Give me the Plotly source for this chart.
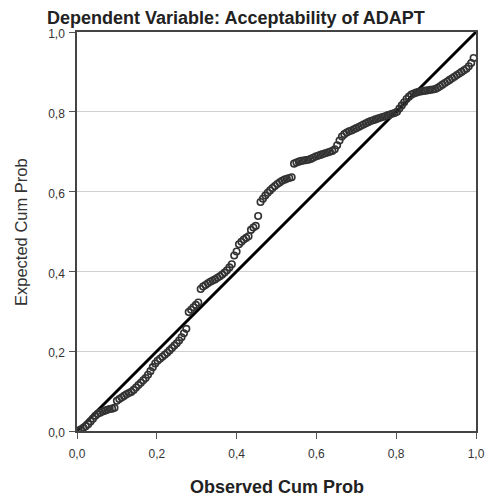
import plotly.graph_objects as go

# Observed cumulative probability (x) and expected cumulative probability (y)
x_obs = [
    0.004, 0.010, 0.016, 0.022, 0.028, 0.034, 0.040, 0.046, 0.052, 0.058, 0.064, 0.070, 0.076, 0.082, 0.088, 0.094,
    0.100, 0.106, 0.112, 0.118, 0.124, 0.130, 0.136, 0.142, 0.148, 0.154, 0.160, 0.166, 0.172, 0.178, 0.184,
    0.190, 0.196, 0.202, 0.208, 0.214, 0.220, 0.226, 0.232, 0.238, 0.244, 0.250, 0.256, 0.262, 0.268, 0.274,
    0.280, 0.286, 0.292, 0.298, 0.304, 0.310, 0.316, 0.322, 0.328, 0.334, 0.340, 0.346, 0.352, 0.358, 0.364,
    0.370, 0.376, 0.382, 0.388, 0.394, 0.400, 0.406, 0.412, 0.418, 0.424, 0.430, 0.436, 0.442, 0.448, 0.454, 0.460,
    0.466, 0.472, 0.478, 0.484, 0.490, 0.496, 0.502, 0.508, 0.514, 0.520, 0.526, 0.532, 0.538,
    0.544, 0.550, 0.556, 0.562, 0.568, 0.574, 0.580, 0.586, 0.592, 0.598, 0.604, 0.610, 0.616, 0.622, 0.628,
    0.634, 0.640, 0.646, 0.652, 0.658, 0.664, 0.670, 0.676, 0.682, 0.688, 0.694, 0.700, 0.706, 0.712, 0.718,
    0.724, 0.730, 0.736, 0.742, 0.748, 0.754, 0.760, 0.766, 0.772, 0.778, 0.784, 0.790, 0.796,
    0.802, 0.808, 0.814, 0.820, 0.826, 0.832, 0.838, 0.844, 0.850, 0.856, 0.862, 0.868, 0.874, 0.880, 0.886,
    0.892, 0.898, 0.904, 0.910, 0.916, 0.922, 0.928, 0.934, 0.940, 0.946, 0.952, 0.958, 0.964, 0.970, 0.976,
    0.982, 0.988, 0.994,
]
y_exp = [
    0.001, 0.004, 0.008, 0.012, 0.017, 0.024, 0.031, 0.038, 0.043, 0.046, 0.049, 0.051, 0.053, 0.055, 0.056, 0.058,
    0.076, 0.080, 0.084, 0.088, 0.092, 0.095, 0.098, 0.103, 0.109, 0.115, 0.121, 0.127, 0.133, 0.141, 0.150,
    0.160, 0.169, 0.176, 0.181, 0.186, 0.191, 0.196, 0.202, 0.208, 0.214, 0.220, 0.227, 0.235, 0.245, 0.256,
    0.298, 0.304, 0.310, 0.316, 0.322, 0.356, 0.362, 0.366, 0.370, 0.374, 0.377, 0.380, 0.384, 0.388, 0.392,
    0.397, 0.403, 0.410, 0.418, 0.440, 0.450, 0.468, 0.474, 0.480, 0.484, 0.488, 0.504, 0.510, 0.514, 0.539, 0.574,
    0.582, 0.590, 0.597, 0.603, 0.609, 0.614, 0.619, 0.623, 0.627, 0.630, 0.632, 0.634, 0.636,
    0.670, 0.673, 0.675, 0.677, 0.678, 0.679, 0.680, 0.682, 0.685, 0.688, 0.690, 0.692, 0.694, 0.696, 0.698,
    0.700, 0.702, 0.706, 0.716, 0.728, 0.738, 0.744, 0.748, 0.751, 0.753, 0.756, 0.759, 0.762, 0.765, 0.768,
    0.771, 0.774, 0.777, 0.779, 0.781, 0.783, 0.785, 0.787, 0.789, 0.791, 0.793, 0.795, 0.797,
    0.800, 0.808, 0.816, 0.824, 0.832, 0.838, 0.843, 0.846, 0.848, 0.850, 0.851, 0.852, 0.853, 0.854, 0.855,
    0.856, 0.857, 0.860, 0.864, 0.868, 0.872, 0.876, 0.880, 0.884, 0.888, 0.892, 0.896, 0.900, 0.904, 0.908,
    0.914, 0.922, 0.935,
]
ref_x = [0.0, 1.0]
ref_y = [0.0, 1.0]
tick_vals = [0.0, 0.2, 0.4, 0.6, 0.8, 1.0]
tick_text = ["0,0", "0,2", "0,4", "0,6", "0,8", "1,0"]

FONT = "Liberation Sans, Arial, sans-serif"

fig = go.Figure()
fig.add_trace(go.Scatter(
    x=ref_x, y=ref_y, mode="lines",
    line=dict(color="black", width=3),
    hoverinfo="skip", showlegend=False,
))
fig.add_trace(go.Scatter(
    x=x_obs, y=y_exp, mode="markers",
    marker=dict(symbol="circle-open", size=6.5, color="#333333", line=dict(width=1.6, color="#333333")),
    showlegend=False,
))

axis_common = dict(
    range=[0, 1], tickvals=tick_vals, ticktext=tick_text,
    ticks="outside", ticklen=6, tickcolor="#555555", tickwidth=1,
    showline=True, linecolor="#444444", linewidth=1.5, mirror=True,
    zeroline=False, tickfont=dict(family=FONT, size=12, color="#333333"),
    fixedrange=True, automargin=False,
)
fig.update_xaxes(showgrid=False, ticklabelstandoff=5, **axis_common)
fig.update_yaxes(showgrid=True, gridcolor="#d0d0d0", gridwidth=1.2,
                 ticklabelshift=2, ticklabelstandoff=2, **axis_common)

fig.update_layout(
    width=486, height=497,
    margin=dict(l=77, r=10, t=32, b=66),
    plot_bgcolor="white", paper_bgcolor="white",
    title=dict(text="<b>Dependent Variable: Acceptability of ADAPT</b>",
               x=47 / 486, xanchor="left", xref="container",
               y=1 - 18 / 497, yanchor="middle", yref="container",
               font=dict(family=FONT, size=18, color="#222222")),
    annotations=[
        dict(text="Expected Cum Prob", xref="paper", yref="paper",
             x=-56 / 399, y=(431 - 232) / 399, xanchor="center", yanchor="middle",
             textangle=-90, showarrow=False,
             font=dict(family=FONT, size=16.5, color="#333333")),
        dict(text="<b>Observed Cum Prob</b>", xref="paper", yref="paper",
             x=0.5, y=-(487 - 431) / 399, xanchor="center", yanchor="middle",
             showarrow=False,
             font=dict(family=FONT, size=18, color="#222222")),
    ],
)

fig.write_html(
    "out.html",
    config={"displayModeBar": False},
    post_script="document.body.style.margin='0';document.body.style.padding='0';document.body.style.overflow='hidden';",
)
